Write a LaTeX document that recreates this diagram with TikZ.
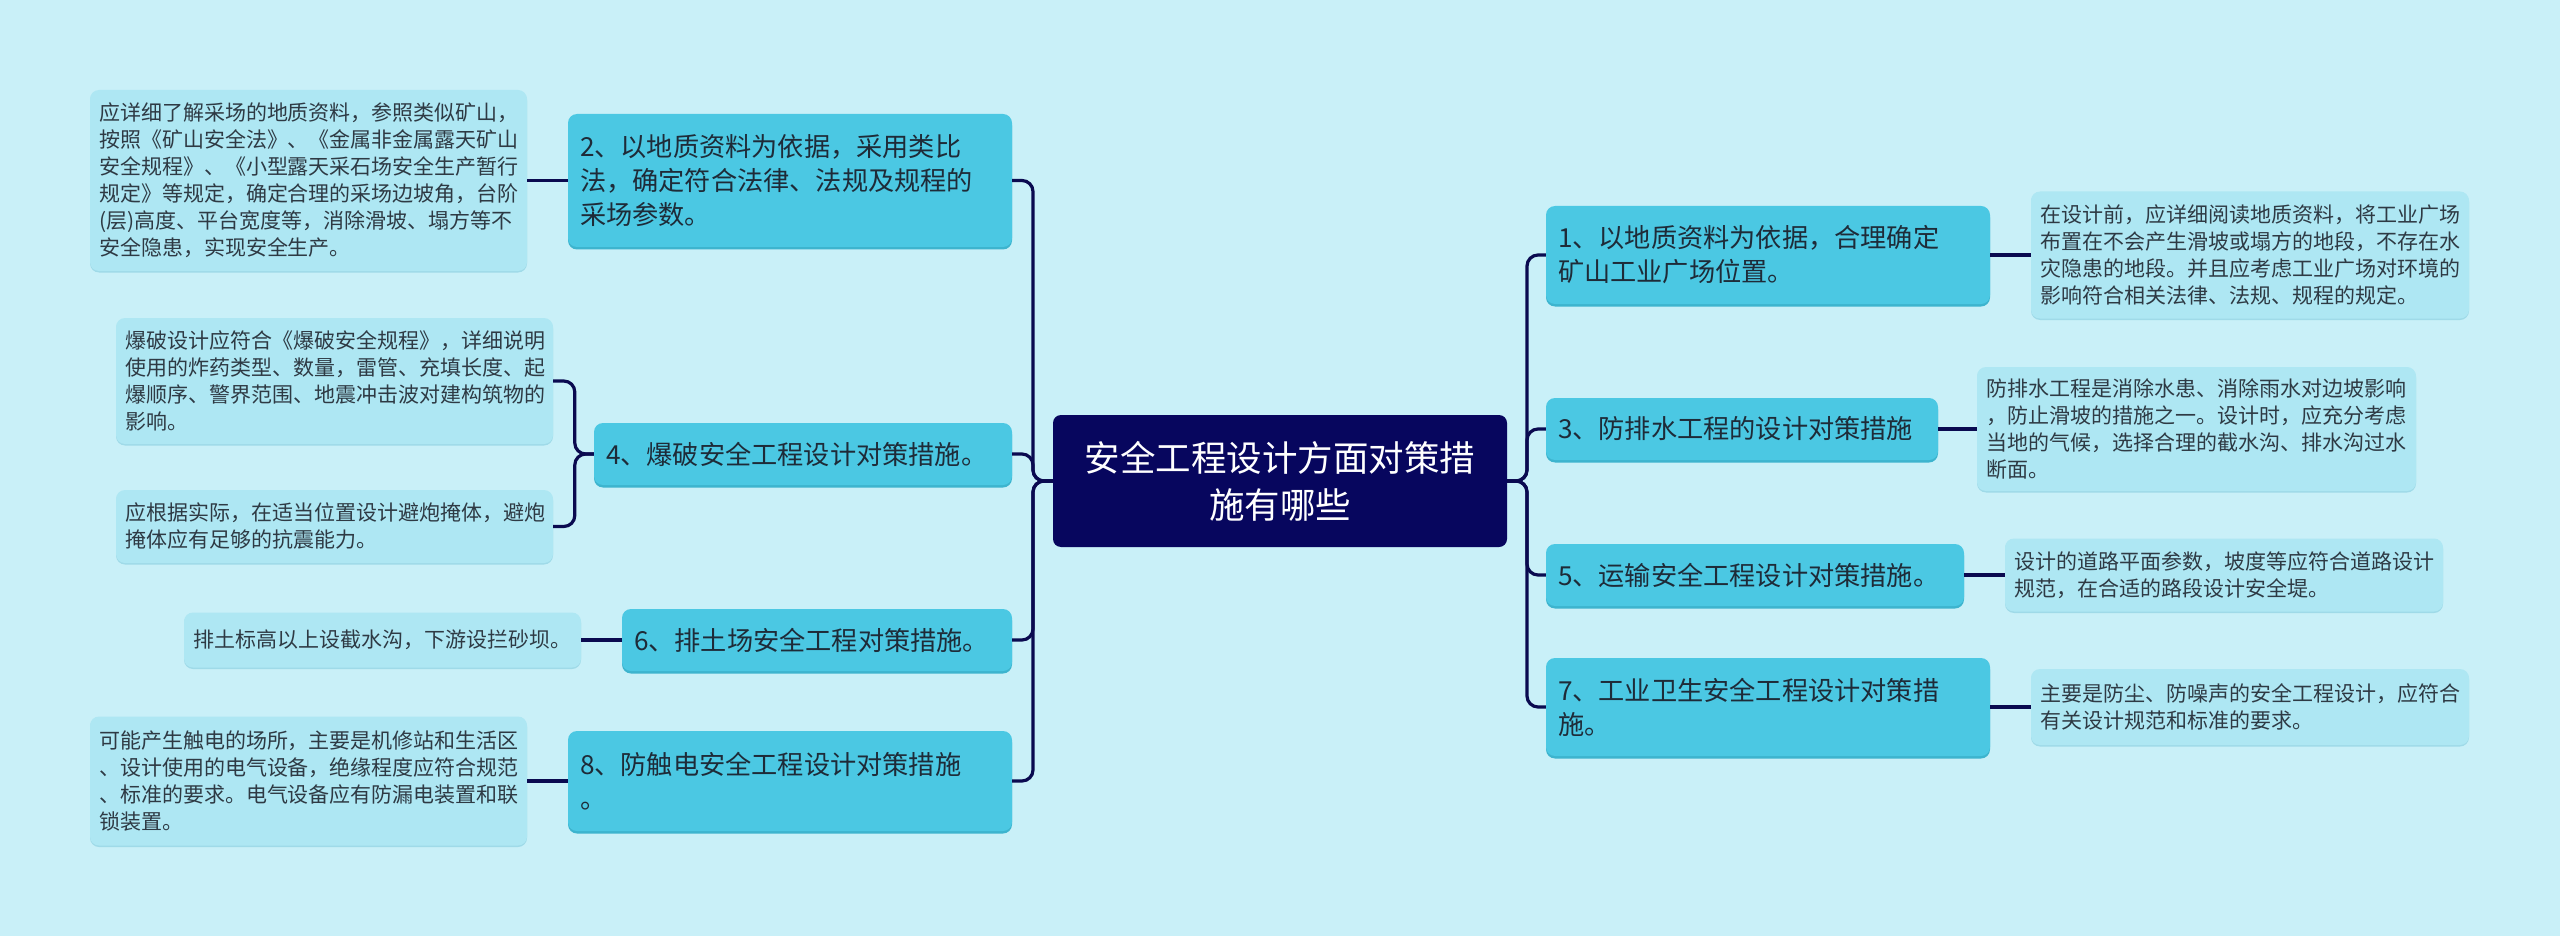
\documentclass[tikz,border=0pt]{standalone}
\usepackage{fontspec}
\setmainfont{Noto Sans CJK SC}
\definecolor{bgc}{HTML}{C9F0F8}
\definecolor{lvone}{HTML}{4BC8E3}
\definecolor{lvoneshadow}{HTML}{3DB4CE}
\definecolor{lvdet}{HTML}{AEE7F3}
\definecolor{lvdetshadow}{HTML}{9FDAE8}
\definecolor{rootc}{HTML}{07065E}
\definecolor{linec}{HTML}{0A0A50}
\definecolor{txtone}{HTML}{1E2B38}
\definecolor{txtdet}{HTML}{2E3A44}
\tikzset{
  x=1pt, y=-1pt,
  rootbox/.style={draw=none, fill=rootc, rounded corners=8pt, text=white, align=center,
    font=\fontsize{35.5}{47}\selectfont, inner sep=0pt},
  onebox/.style={draw=none, fill=lvone, rounded corners=9pt, text=txtone, align=left,
    font=\fontsize{26.2}{34}\selectfont, inner xsep=12pt, inner ysep=0pt,
    preaction={fill=lvoneshadow, transform canvas={yshift=-2.5pt}}},
  detbox/.style={draw=none, fill=lvdet, rounded corners=9pt, text=txtdet, align=left,
    font=\fontsize{21}{27}\selectfont, inner xsep=9pt, inner ysep=0pt,
    preaction={fill=lvdetshadow, transform canvas={yshift=-1.5pt}}},
  conn/.style={draw=linec, line width=3.2pt, rounded corners=11pt},
}
\begin{document}
\begin{tikzpicture}
\fill[bgc] (0,0) rectangle (2560,936);
\useasboundingbox (0,0) rectangle (2560,936);

% root
\node[rootbox, minimum width=454pt, minimum height=132pt] (C) at (1280,481) {安全工程设计方面对策措\\施有哪些};

% left level one
\node[onebox, minimum width=444pt, minimum height=133pt, text width=420pt] (N2) at (790,180.5) {2、以地质资料为依据，采用类比\\法，确定符合法律、法规及规程的\\采场参数。};
\node[onebox, minimum width=418pt, minimum height=62pt, text width=394pt] (N4) at (803,454) {4、爆破安全工程设计对策措施。};
\node[onebox, minimum width=390pt, minimum height=62pt, text width=366pt] (N6) at (817,640) {6、排土场安全工程对策措施。};
\node[onebox, minimum width=444pt, minimum height=100pt, text width=420pt] (N8) at (790,781) {8、防触电安全工程设计对策措施\\。};

% right level one
\node[onebox, minimum width=444pt, minimum height=98pt, text width=420pt] (N1) at (1768,255) {1、以地质资料为依据，合理确定\\矿山工业广场位置。};
\node[onebox, minimum width=392pt, minimum height=62pt, text width=368pt] (N3) at (1742,429) {3、防排水工程的设计对策措施};
\node[onebox, minimum width=418pt, minimum height=62pt, text width=394pt] (N5) at (1755,575) {5、运输安全工程设计对策措施。};
\node[onebox, minimum width=444pt, minimum height=98pt, text width=420pt] (N7) at (1768,707) {7、工业卫生安全工程设计对策措\\施。};

% left details
\node[detbox, minimum width=437pt, minimum height=181pt, text width=419pt] (A2) at (308.5,180.5) {应详细了解采场的地质资料，参照类似矿山，\\按照《矿山安全法》、《金属非金属露天矿山\\安全规程》、《小型露天采石场安全生产暂行\\规定》等规定，确定合理的采场边坡角，台阶\\(层)高度、平台宽度等，消除滑坡、塌方等不\\安全隐患，实现安全生产。};
\node[detbox, minimum width=437pt, minimum height=126pt, text width=419pt] (A4a) at (334.5,381) {爆破设计应符合《爆破安全规程》，详细说明\\使用的炸药类型、数量，雷管、充填长度、起\\爆顺序、警界范围、地震冲击波对建构筑物的\\影响。};
\node[detbox, minimum width=437pt, minimum height=73pt, text width=419pt] (A4b) at (334.5,526.5) {应根据实际，在适当位置设计避炮掩体，避炮\\掩体应有足够的抗震能力。};
\node[detbox, minimum width=397pt, minimum height=55pt, text width=379pt] (A6) at (382.5,640) {排土标高以上设截水沟，下游设拦砂坝。};
\node[detbox, minimum width=437pt, minimum height=129pt, text width=419pt] (A8) at (308.5,781) {可能产生触电的场所，主要是机修站和生活区\\、设计使用的电气设备，绝缘程度应符合规范\\、标准的要求。电气设备应有防漏电装置和联\\锁装置。};

% right details
\node[detbox, minimum width=438pt, minimum height=127pt, text width=420pt] (B1) at (2250,255) {在设计前，应详细阅读地质资料，将工业广场\\布置在不会产生滑坡或塌方的地段，不存在水\\灾隐患的地段。并且应考虑工业广场对环境的\\影响符合相关法律、法规、规程的规定。};
\node[detbox, minimum width=439pt, minimum height=124pt, text width=421pt] (B3) at (2196.5,429) {防排水工程是消除水患、消除雨水对边坡影响\\，防止滑坡的措施之一。设计时，应充分考虑\\当地的气候，选择合理的截水沟、排水沟过水\\断面。};
\node[detbox, minimum width=438pt, minimum height=73pt, text width=420pt] (B5) at (2224,575) {设计的道路平面参数，坡度等应符合道路设计\\规范，在合适的路段设计安全堤。};
\node[detbox, minimum width=438pt, minimum height=76pt, text width=420pt] (B7) at (2250,707) {主要是防尘、防噪声的安全工程设计，应符合\\有关设计规范和标准的要求。};

% trunks
\coordinate (LT) at (1033,481);
\coordinate (RT) at (1527,481);
\draw[conn] (C.west) -- (LT) |- (N2.east);
\draw[conn] (C.west) -- (LT) |- (N4.east);
\draw[conn] (C.west) -- (LT) |- (N6.east);
\draw[conn] (C.west) -- (LT) |- (N8.east);
\draw[conn] (C.east) -- (RT) |- (N1.west);
\draw[conn] (C.east) -- (RT) |- (N3.west);
\draw[conn] (C.east) -- (RT) |- (N5.west);
\draw[conn] (C.east) -- (RT) |- (N7.west);

% detail links
\draw[conn] (N2.west) -- (A2.east);
\draw[conn] (N4.west) -- ++(-19,0) |- (A4a.east);
\draw[conn] (N4.west) -- ++(-19,0) |- (A4b.east);
\draw[conn] (N6.west) -- (A6.east);
\draw[conn] (N8.west) -- (A8.east);
\draw[conn] (N1.east) -- (B1.west);
\draw[conn] (N3.east) -- (B3.west);
\draw[conn] (N5.east) -- (B5.west);
\draw[conn] (N7.east) -- (B7.west);
\end{tikzpicture}
\end{document}
